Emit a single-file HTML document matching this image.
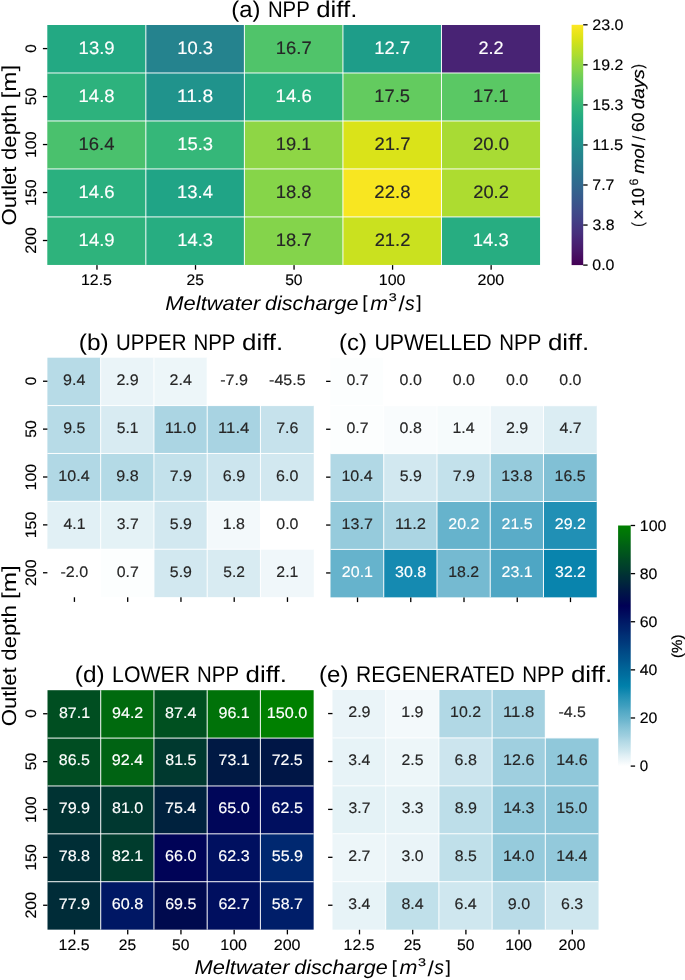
<!DOCTYPE html>
<html><head><meta charset="utf-8"><style>
html,body{margin:0;padding:0;background:#fff;}
body{width:685px;height:980px;overflow:hidden;}
svg{display:block;will-change:transform;text-rendering:geometricPrecision;font-family:"Liberation Sans",sans-serif;}
</style></head><body>
<svg width="685" height="980" viewBox="0 0 685 980">
<defs><linearGradient id="g1" x1="0" y1="1" x2="0" y2="0"><stop offset="0.0000" stop-color="#440154"/><stop offset="0.0208" stop-color="#46085c"/><stop offset="0.0417" stop-color="#471063"/><stop offset="0.0625" stop-color="#48186a"/><stop offset="0.0833" stop-color="#481f70"/><stop offset="0.1042" stop-color="#482576"/><stop offset="0.1250" stop-color="#472d7b"/><stop offset="0.1458" stop-color="#46337f"/><stop offset="0.1667" stop-color="#443983"/><stop offset="0.1875" stop-color="#424086"/><stop offset="0.2083" stop-color="#404688"/><stop offset="0.2292" stop-color="#3e4c8a"/><stop offset="0.2500" stop-color="#3b528b"/><stop offset="0.2708" stop-color="#38588c"/><stop offset="0.2917" stop-color="#365d8d"/><stop offset="0.3125" stop-color="#33638d"/><stop offset="0.3333" stop-color="#31688e"/><stop offset="0.3542" stop-color="#2e6d8e"/><stop offset="0.3750" stop-color="#2c728e"/><stop offset="0.3958" stop-color="#2a778e"/><stop offset="0.4167" stop-color="#287c8e"/><stop offset="0.4375" stop-color="#26828e"/><stop offset="0.4583" stop-color="#24868e"/><stop offset="0.4792" stop-color="#228b8d"/><stop offset="0.5000" stop-color="#21918c"/><stop offset="0.5208" stop-color="#1f958b"/><stop offset="0.5417" stop-color="#1f9a8a"/><stop offset="0.5625" stop-color="#1fa088"/><stop offset="0.5833" stop-color="#20a486"/><stop offset="0.6042" stop-color="#23a983"/><stop offset="0.6250" stop-color="#28ae80"/><stop offset="0.6458" stop-color="#2eb37c"/><stop offset="0.6667" stop-color="#35b779"/><stop offset="0.6875" stop-color="#3fbc73"/><stop offset="0.7083" stop-color="#48c16e"/><stop offset="0.7292" stop-color="#52c569"/><stop offset="0.7500" stop-color="#5ec962"/><stop offset="0.7708" stop-color="#69cd5b"/><stop offset="0.7917" stop-color="#75d054"/><stop offset="0.8125" stop-color="#84d44b"/><stop offset="0.8333" stop-color="#90d743"/><stop offset="0.8542" stop-color="#9dd93b"/><stop offset="0.8750" stop-color="#addc30"/><stop offset="0.8958" stop-color="#bade28"/><stop offset="0.9167" stop-color="#c8e020"/><stop offset="0.9375" stop-color="#d8e219"/><stop offset="0.9583" stop-color="#e5e419"/><stop offset="0.9792" stop-color="#f1e51d"/><stop offset="1.0000" stop-color="#fde725"/></linearGradient><linearGradient id="g2" x1="0" y1="1" x2="0" y2="0"><stop offset="0.0000" stop-color="#ffffff"/><stop offset="0.0208" stop-color="#f0f7fa"/><stop offset="0.0417" stop-color="#e1f0f5"/><stop offset="0.0625" stop-color="#cfe7ef"/><stop offset="0.0833" stop-color="#c0e0ea"/><stop offset="0.1042" stop-color="#b1d8e5"/><stop offset="0.1250" stop-color="#9fcfdf"/><stop offset="0.1458" stop-color="#90c8da"/><stop offset="0.1667" stop-color="#81c0d5"/><stop offset="0.1875" stop-color="#6fb7cf"/><stop offset="0.2083" stop-color="#60b0ca"/><stop offset="0.2292" stop-color="#51a8c5"/><stop offset="0.2500" stop-color="#3f9fbf"/><stop offset="0.2708" stop-color="#3098ba"/><stop offset="0.2917" stop-color="#2190b5"/><stop offset="0.3125" stop-color="#0f87af"/><stop offset="0.3333" stop-color="#0080aa"/><stop offset="0.3542" stop-color="#0078a5"/><stop offset="0.3750" stop-color="#006f9f"/><stop offset="0.3958" stop-color="#00689a"/><stop offset="0.4167" stop-color="#006095"/><stop offset="0.4375" stop-color="#00578f"/><stop offset="0.4583" stop-color="#00508a"/><stop offset="0.4792" stop-color="#004885"/><stop offset="0.5000" stop-color="#003f7f"/><stop offset="0.5208" stop-color="#00377a"/><stop offset="0.5417" stop-color="#003075"/><stop offset="0.5625" stop-color="#00276f"/><stop offset="0.5833" stop-color="#00206a"/><stop offset="0.6042" stop-color="#001865"/><stop offset="0.6250" stop-color="#000f5f"/><stop offset="0.6458" stop-color="#00075a"/><stop offset="0.6667" stop-color="#000055"/><stop offset="0.6875" stop-color="#00094f"/><stop offset="0.7083" stop-color="#00114a"/><stop offset="0.7292" stop-color="#001845"/><stop offset="0.7500" stop-color="#00213f"/><stop offset="0.7708" stop-color="#00293a"/><stop offset="0.7917" stop-color="#003035"/><stop offset="0.8125" stop-color="#00392f"/><stop offset="0.8333" stop-color="#00412a"/><stop offset="0.8542" stop-color="#004825"/><stop offset="0.8750" stop-color="#00511f"/><stop offset="0.8958" stop-color="#00591a"/><stop offset="0.9167" stop-color="#006015"/><stop offset="0.9375" stop-color="#00690f"/><stop offset="0.9583" stop-color="#00710a"/><stop offset="0.9792" stop-color="#007805"/><stop offset="1.0000" stop-color="#008000"/></linearGradient></defs>
<g><rect width="685" height="980" fill="#fff"/>
<rect x="47.3" y="25" width="98.59" height="48.03" fill="#23a983"/>
<rect x="145.84" y="25" width="98.59" height="48.03" fill="#25838e"/>
<rect x="244.38" y="25" width="98.59" height="48.03" fill="#50c46a"/>
<rect x="342.92" y="25" width="98.59" height="48.03" fill="#1e9d89"/>
<rect x="441.46" y="25" width="98.59" height="48.03" fill="#482374"/>
<rect x="47.3" y="72.98" width="98.59" height="48.03" fill="#2db27d"/>
<rect x="145.84" y="72.98" width="98.59" height="48.03" fill="#20938c"/>
<rect x="244.38" y="72.98" width="98.59" height="48.03" fill="#2ab07f"/>
<rect x="342.92" y="72.98" width="98.59" height="48.03" fill="#63cb5f"/>
<rect x="441.46" y="72.98" width="98.59" height="48.03" fill="#5ac864"/>
<rect x="47.3" y="120.96" width="98.59" height="48.03" fill="#4ac16d"/>
<rect x="145.84" y="120.96" width="98.59" height="48.03" fill="#35b779"/>
<rect x="244.38" y="120.96" width="98.59" height="48.03" fill="#8ed645"/>
<rect x="342.92" y="120.96" width="98.59" height="48.03" fill="#dae319"/>
<rect x="441.46" y="120.96" width="98.59" height="48.03" fill="#a8db34"/>
<rect x="47.3" y="168.94" width="98.59" height="48.03" fill="#2ab07f"/>
<rect x="145.84" y="168.94" width="98.59" height="48.03" fill="#20a486"/>
<rect x="244.38" y="168.94" width="98.59" height="48.03" fill="#86d549"/>
<rect x="342.92" y="168.94" width="98.59" height="48.03" fill="#f8e621"/>
<rect x="441.46" y="168.94" width="98.59" height="48.03" fill="#addc30"/>
<rect x="47.3" y="216.92" width="98.59" height="48.03" fill="#2eb37c"/>
<rect x="145.84" y="216.92" width="98.59" height="48.03" fill="#27ad81"/>
<rect x="244.38" y="216.92" width="98.59" height="48.03" fill="#84d44b"/>
<rect x="342.92" y="216.92" width="98.59" height="48.03" fill="#cae11f"/>
<rect x="441.46" y="216.92" width="98.59" height="48.03" fill="#27ad81"/>
<rect x="145.34" y="25" width="1" height="239.9" fill="#fff" fill-opacity="0.95"/>
<rect x="243.88" y="25" width="1" height="239.9" fill="#fff" fill-opacity="0.95"/>
<rect x="342.42" y="25" width="1" height="239.9" fill="#fff" fill-opacity="0.95"/>
<rect x="440.96" y="25" width="1" height="239.9" fill="#fff" fill-opacity="0.95"/>
<rect x="47.3" y="72.48" width="492.7" height="1" fill="#fff" fill-opacity="0.95"/>
<rect x="47.3" y="120.46" width="492.7" height="1" fill="#fff" fill-opacity="0.95"/>
<rect x="47.3" y="168.44" width="492.7" height="1" fill="#fff" fill-opacity="0.95"/>
<rect x="47.3" y="216.42" width="492.7" height="1" fill="#fff" fill-opacity="0.95"/>
<text x="78.61" y="53.82" font-size="18.08" textLength="36" lengthAdjust="spacingAndGlyphs" fill="#ffffff" stroke="#ffffff" stroke-width="0.15">13.9</text>
<text x="177.24" y="53.82" font-size="18.08" textLength="35.77" lengthAdjust="spacingAndGlyphs" fill="#ffffff" stroke="#ffffff" stroke-width="0.15">10.3</text>
<text x="275.83" y="53.82" font-size="18.08" textLength="35.8" lengthAdjust="spacingAndGlyphs" fill="#262626" stroke="#262626" stroke-width="0.15">16.7</text>
<text x="374.37" y="53.82" font-size="18.08" textLength="35.8" lengthAdjust="spacingAndGlyphs" fill="#ffffff" stroke="#ffffff" stroke-width="0.15">12.7</text>
<text x="478.46" y="53.82" font-size="18.08" textLength="25.17" lengthAdjust="spacingAndGlyphs" fill="#ffffff" stroke="#ffffff" stroke-width="0.15">2.2</text>
<text x="78.6" y="101.8" font-size="18.08" textLength="35.96" lengthAdjust="spacingAndGlyphs" fill="#ffffff" stroke="#ffffff" stroke-width="0.15">14.8</text>
<text x="177.08" y="101.8" font-size="18.08" textLength="36.05" lengthAdjust="spacingAndGlyphs" fill="#ffffff" stroke="#ffffff" stroke-width="0.15">11.8</text>
<text x="275.63" y="101.8" font-size="18.08" textLength="36.06" lengthAdjust="spacingAndGlyphs" fill="#ffffff" stroke="#ffffff" stroke-width="0.15">14.6</text>
<text x="374.39" y="101.8" font-size="18.08" textLength="35.6" lengthAdjust="spacingAndGlyphs" fill="#262626" stroke="#262626" stroke-width="0.15">17.5</text>
<text x="472.97" y="101.8" font-size="18.08" textLength="35.65" lengthAdjust="spacingAndGlyphs" fill="#262626" stroke="#262626" stroke-width="0.15">17.1</text>
<text x="78.5" y="149.78" font-size="18.08" textLength="35.89" lengthAdjust="spacingAndGlyphs" fill="#262626" stroke="#262626" stroke-width="0.15">16.4</text>
<text x="177.24" y="149.78" font-size="18.08" textLength="35.77" lengthAdjust="spacingAndGlyphs" fill="#ffffff" stroke="#ffffff" stroke-width="0.15">15.3</text>
<text x="275.89" y="149.78" font-size="18.08" textLength="35.65" lengthAdjust="spacingAndGlyphs" fill="#262626" stroke="#262626" stroke-width="0.15">19.1</text>
<text x="374.53" y="149.78" font-size="18.08" textLength="35.93" lengthAdjust="spacingAndGlyphs" fill="#262626" stroke="#262626" stroke-width="0.15">21.7</text>
<text x="472.92" y="149.78" font-size="18.08" textLength="36.05" lengthAdjust="spacingAndGlyphs" fill="#262626" stroke="#262626" stroke-width="0.15">20.0</text>
<text x="78.55" y="197.76" font-size="18.08" textLength="36.06" lengthAdjust="spacingAndGlyphs" fill="#ffffff" stroke="#ffffff" stroke-width="0.15">14.6</text>
<text x="177.04" y="197.76" font-size="18.08" textLength="35.89" lengthAdjust="spacingAndGlyphs" fill="#ffffff" stroke="#ffffff" stroke-width="0.15">13.4</text>
<text x="275.68" y="197.76" font-size="18.08" textLength="35.96" lengthAdjust="spacingAndGlyphs" fill="#262626" stroke="#262626" stroke-width="0.15">18.8</text>
<text x="374.39" y="197.76" font-size="18.08" textLength="36.09" lengthAdjust="spacingAndGlyphs" fill="#262626" stroke="#262626" stroke-width="0.15">22.8</text>
<text x="473.21" y="197.76" font-size="18.08" textLength="35.67" lengthAdjust="spacingAndGlyphs" fill="#262626" stroke="#262626" stroke-width="0.15">20.2</text>
<text x="78.61" y="245.74" font-size="18.08" textLength="36" lengthAdjust="spacingAndGlyphs" fill="#ffffff" stroke="#ffffff" stroke-width="0.15">14.9</text>
<text x="177.24" y="245.74" font-size="18.08" textLength="35.77" lengthAdjust="spacingAndGlyphs" fill="#ffffff" stroke="#ffffff" stroke-width="0.15">14.3</text>
<text x="275.83" y="245.74" font-size="18.08" textLength="35.8" lengthAdjust="spacingAndGlyphs" fill="#262626" stroke="#262626" stroke-width="0.15">18.7</text>
<text x="374.67" y="245.74" font-size="18.08" textLength="35.67" lengthAdjust="spacingAndGlyphs" fill="#262626" stroke="#262626" stroke-width="0.15">21.2</text>
<text x="472.86" y="245.74" font-size="18.08" textLength="35.77" lengthAdjust="spacingAndGlyphs" fill="#ffffff" stroke="#ffffff" stroke-width="0.15">14.3</text>
<rect x="47.4" y="357.7" width="53.31" height="47.93" fill="#b7dbe7"/>
<rect x="100.66" y="357.7" width="53.31" height="47.93" fill="#eaf4f8"/>
<rect x="153.92" y="357.7" width="53.31" height="47.93" fill="#edf6f9"/>
<rect x="207.18" y="357.7" width="53.31" height="47.93" fill="#ffffff"/>
<rect x="260.44" y="357.7" width="53.31" height="47.93" fill="#ffffff"/>
<rect x="47.4" y="405.58" width="53.31" height="47.93" fill="#b7dbe7"/>
<rect x="100.66" y="405.58" width="53.31" height="47.93" fill="#d8ebf2"/>
<rect x="153.92" y="405.58" width="53.31" height="47.93" fill="#abd5e3"/>
<rect x="207.18" y="405.58" width="53.31" height="47.93" fill="#a8d3e2"/>
<rect x="260.44" y="405.58" width="53.31" height="47.93" fill="#c6e2ec"/>
<rect x="47.4" y="453.46" width="53.31" height="47.93" fill="#b1d8e5"/>
<rect x="100.66" y="453.46" width="53.31" height="47.93" fill="#b4dae6"/>
<rect x="153.92" y="453.46" width="53.31" height="47.93" fill="#c3e1eb"/>
<rect x="207.18" y="453.46" width="53.31" height="47.93" fill="#cce5ee"/>
<rect x="260.44" y="453.46" width="53.31" height="47.93" fill="#d2e8f0"/>
<rect x="47.4" y="501.34" width="53.31" height="47.93" fill="#e1f0f5"/>
<rect x="100.66" y="501.34" width="53.31" height="47.93" fill="#e4f2f6"/>
<rect x="153.92" y="501.34" width="53.31" height="47.93" fill="#d2e8f0"/>
<rect x="207.18" y="501.34" width="53.31" height="47.93" fill="#f3f9fb"/>
<rect x="260.44" y="501.34" width="53.31" height="47.93" fill="#ffffff"/>
<rect x="47.4" y="549.22" width="53.31" height="47.93" fill="#ffffff"/>
<rect x="100.66" y="549.22" width="53.31" height="47.93" fill="#fcfefe"/>
<rect x="153.92" y="549.22" width="53.31" height="47.93" fill="#d2e8f0"/>
<rect x="207.18" y="549.22" width="53.31" height="47.93" fill="#d8ebf2"/>
<rect x="260.44" y="549.22" width="53.31" height="47.93" fill="#f0f7fa"/>
<rect x="100.16" y="357.7" width="1" height="239.4" fill="#fff" fill-opacity="0.95"/>
<rect x="153.42" y="357.7" width="1" height="239.4" fill="#fff" fill-opacity="0.95"/>
<rect x="206.68" y="357.7" width="1" height="239.4" fill="#fff" fill-opacity="0.95"/>
<rect x="259.94" y="357.7" width="1" height="239.4" fill="#fff" fill-opacity="0.95"/>
<rect x="47.4" y="405.08" width="266.3" height="1" fill="#fff" fill-opacity="0.95"/>
<rect x="47.4" y="452.96" width="266.3" height="1" fill="#fff" fill-opacity="0.95"/>
<rect x="47.4" y="500.84" width="266.3" height="1" fill="#fff" fill-opacity="0.95"/>
<rect x="47.4" y="548.72" width="266.3" height="1" fill="#fff" fill-opacity="0.95"/>
<text x="63.03" y="385.09" font-size="15.26" textLength="22.33" lengthAdjust="spacingAndGlyphs" fill="#262626" stroke="#262626" stroke-width="0.15">9.4</text>
<text x="116.41" y="385.09" font-size="15.26" textLength="22.33" lengthAdjust="spacingAndGlyphs" fill="#262626" stroke="#262626" stroke-width="0.15">2.9</text>
<text x="169.57" y="385.09" font-size="15.26" textLength="22.23" lengthAdjust="spacingAndGlyphs" fill="#262626" stroke="#262626" stroke-width="0.15">2.4</text>
<text x="220.26" y="385.09" font-size="15.26" textLength="27.76" lengthAdjust="spacingAndGlyphs" fill="#262626" stroke="#262626" stroke-width="0.15">-7.9</text>
<text x="269.09" y="385.09" font-size="15.26" textLength="36.56" lengthAdjust="spacingAndGlyphs" fill="#262626" stroke="#262626" stroke-width="0.15">-45.5</text>
<text x="63.26" y="432.97" font-size="15.26" textLength="22.08" lengthAdjust="spacingAndGlyphs" fill="#262626" stroke="#262626" stroke-width="0.15">9.5</text>
<text x="116.77" y="432.97" font-size="15.26" textLength="21.79" lengthAdjust="spacingAndGlyphs" fill="#262626" stroke="#262626" stroke-width="0.15">5.1</text>
<text x="164.88" y="432.97" font-size="15.26" textLength="31.35" lengthAdjust="spacingAndGlyphs" fill="#262626" stroke="#262626" stroke-width="0.15">11.0</text>
<text x="218.07" y="432.97" font-size="15.26" textLength="31.32" lengthAdjust="spacingAndGlyphs" fill="#262626" stroke="#262626" stroke-width="0.15">11.4</text>
<text x="276.19" y="432.97" font-size="15.26" textLength="22.26" lengthAdjust="spacingAndGlyphs" fill="#262626" stroke="#262626" stroke-width="0.15">7.6</text>
<text x="58.34" y="480.85" font-size="15.26" textLength="31.25" lengthAdjust="spacingAndGlyphs" fill="#262626" stroke="#262626" stroke-width="0.15">10.4</text>
<text x="116.37" y="480.85" font-size="15.26" textLength="22.39" lengthAdjust="spacingAndGlyphs" fill="#262626" stroke="#262626" stroke-width="0.15">9.8</text>
<text x="169.72" y="480.85" font-size="15.26" textLength="22.2" lengthAdjust="spacingAndGlyphs" fill="#262626" stroke="#262626" stroke-width="0.15">7.9</text>
<text x="222.89" y="480.85" font-size="15.26" textLength="22.39" lengthAdjust="spacingAndGlyphs" fill="#262626" stroke="#262626" stroke-width="0.15">6.9</text>
<text x="276.13" y="480.85" font-size="15.26" textLength="22.31" lengthAdjust="spacingAndGlyphs" fill="#262626" stroke="#262626" stroke-width="0.15">6.0</text>
<text x="63.58" y="528.73" font-size="15.26" textLength="21.93" lengthAdjust="spacingAndGlyphs" fill="#262626" stroke="#262626" stroke-width="0.15">4.1</text>
<text x="116.75" y="528.73" font-size="15.26" textLength="21.9" lengthAdjust="spacingAndGlyphs" fill="#262626" stroke="#262626" stroke-width="0.15">3.7</text>
<text x="169.87" y="528.73" font-size="15.26" textLength="22.09" lengthAdjust="spacingAndGlyphs" fill="#262626" stroke="#262626" stroke-width="0.15">5.9</text>
<text x="222.77" y="528.73" font-size="15.26" textLength="22.16" lengthAdjust="spacingAndGlyphs" fill="#262626" stroke="#262626" stroke-width="0.15">1.8</text>
<text x="276.29" y="528.73" font-size="15.26" textLength="22.17" lengthAdjust="spacingAndGlyphs" fill="#262626" stroke="#262626" stroke-width="0.15">0.0</text>
<text x="60.46" y="576.61" font-size="15.26" textLength="27.68" lengthAdjust="spacingAndGlyphs" fill="#262626" stroke="#262626" stroke-width="0.15">-2.0</text>
<text x="116.65" y="576.61" font-size="15.26" textLength="22.07" lengthAdjust="spacingAndGlyphs" fill="#262626" stroke="#262626" stroke-width="0.15">0.7</text>
<text x="169.87" y="576.61" font-size="15.26" textLength="22.09" lengthAdjust="spacingAndGlyphs" fill="#262626" stroke="#262626" stroke-width="0.15">5.9</text>
<text x="223.35" y="576.61" font-size="15.26" textLength="21.68" lengthAdjust="spacingAndGlyphs" fill="#262626" stroke="#262626" stroke-width="0.15">5.2</text>
<text x="276.36" y="576.61" font-size="15.26" textLength="22.02" lengthAdjust="spacingAndGlyphs" fill="#262626" stroke="#262626" stroke-width="0.15">2.1</text>
<rect x="330.5" y="357.8" width="53.29" height="47.95" fill="#fcfefe"/>
<rect x="383.74" y="357.8" width="53.29" height="47.95" fill="#ffffff"/>
<rect x="436.98" y="357.8" width="53.29" height="47.95" fill="#ffffff"/>
<rect x="490.22" y="357.8" width="53.29" height="47.95" fill="#ffffff"/>
<rect x="543.46" y="357.8" width="53.29" height="47.95" fill="#ffffff"/>
<rect x="330.5" y="405.7" width="53.29" height="47.95" fill="#fcfefe"/>
<rect x="383.74" y="405.7" width="53.29" height="47.95" fill="#f9fcfd"/>
<rect x="436.98" y="405.7" width="53.29" height="47.95" fill="#f6fbfc"/>
<rect x="490.22" y="405.7" width="53.29" height="47.95" fill="#eaf4f8"/>
<rect x="543.46" y="405.7" width="53.29" height="47.95" fill="#dbedf3"/>
<rect x="330.5" y="453.6" width="53.29" height="47.95" fill="#b1d8e5"/>
<rect x="383.74" y="453.6" width="53.29" height="47.95" fill="#d2e8f0"/>
<rect x="436.98" y="453.6" width="53.29" height="47.95" fill="#c3e1eb"/>
<rect x="490.22" y="453.6" width="53.29" height="47.95" fill="#96cbdc"/>
<rect x="543.46" y="453.6" width="53.29" height="47.95" fill="#81c0d5"/>
<rect x="330.5" y="501.5" width="53.29" height="47.95" fill="#96cbdc"/>
<rect x="383.74" y="501.5" width="53.29" height="47.95" fill="#abd5e3"/>
<rect x="436.98" y="501.5" width="53.29" height="47.95" fill="#66b3cc"/>
<rect x="490.22" y="501.5" width="53.29" height="47.95" fill="#5aacc8"/>
<rect x="543.46" y="501.5" width="53.29" height="47.95" fill="#2190b5"/>
<rect x="330.5" y="549.4" width="53.29" height="47.95" fill="#66b3cc"/>
<rect x="383.74" y="549.4" width="53.29" height="47.95" fill="#158ab1"/>
<rect x="436.98" y="549.4" width="53.29" height="47.95" fill="#75bad1"/>
<rect x="490.22" y="549.4" width="53.29" height="47.95" fill="#4ea6c4"/>
<rect x="543.46" y="549.4" width="53.29" height="47.95" fill="#0984ad"/>
<rect x="383.24" y="357.8" width="1" height="239.5" fill="#fff" fill-opacity="0.95"/>
<rect x="436.48" y="357.8" width="1" height="239.5" fill="#fff" fill-opacity="0.95"/>
<rect x="489.72" y="357.8" width="1" height="239.5" fill="#fff" fill-opacity="0.95"/>
<rect x="542.96" y="357.8" width="1" height="239.5" fill="#fff" fill-opacity="0.95"/>
<rect x="330.5" y="405.2" width="266.2" height="1" fill="#fff" fill-opacity="0.95"/>
<rect x="330.5" y="453.1" width="266.2" height="1" fill="#fff" fill-opacity="0.95"/>
<rect x="330.5" y="501" width="266.2" height="1" fill="#fff" fill-opacity="0.95"/>
<rect x="330.5" y="548.9" width="266.2" height="1" fill="#fff" fill-opacity="0.95"/>
<text x="346.48" y="385.2" font-size="15.26" textLength="22.07" lengthAdjust="spacingAndGlyphs" fill="#262626" stroke="#262626" stroke-width="0.15">0.7</text>
<text x="399.58" y="385.2" font-size="15.26" textLength="22.17" lengthAdjust="spacingAndGlyphs" fill="#262626" stroke="#262626" stroke-width="0.15">0.0</text>
<text x="452.82" y="385.2" font-size="15.26" textLength="22.17" lengthAdjust="spacingAndGlyphs" fill="#262626" stroke="#262626" stroke-width="0.15">0.0</text>
<text x="506.06" y="385.2" font-size="15.26" textLength="22.17" lengthAdjust="spacingAndGlyphs" fill="#262626" stroke="#262626" stroke-width="0.15">0.0</text>
<text x="559.3" y="385.2" font-size="15.26" textLength="22.17" lengthAdjust="spacingAndGlyphs" fill="#262626" stroke="#262626" stroke-width="0.15">0.0</text>
<text x="346.48" y="433.1" font-size="15.26" textLength="22.07" lengthAdjust="spacingAndGlyphs" fill="#262626" stroke="#262626" stroke-width="0.15">0.7</text>
<text x="399.6" y="433.1" font-size="15.26" textLength="22.21" lengthAdjust="spacingAndGlyphs" fill="#262626" stroke="#262626" stroke-width="0.15">0.8</text>
<text x="452.48" y="433.1" font-size="15.26" textLength="22.11" lengthAdjust="spacingAndGlyphs" fill="#262626" stroke="#262626" stroke-width="0.15">1.4</text>
<text x="505.96" y="433.1" font-size="15.26" textLength="22.33" lengthAdjust="spacingAndGlyphs" fill="#262626" stroke="#262626" stroke-width="0.15">2.9</text>
<text x="559.58" y="433.1" font-size="15.26" textLength="22.06" lengthAdjust="spacingAndGlyphs" fill="#262626" stroke="#262626" stroke-width="0.15">4.7</text>
<text x="341.43" y="481" font-size="15.26" textLength="31.25" lengthAdjust="spacingAndGlyphs" fill="#262626" stroke="#262626" stroke-width="0.15">10.4</text>
<text x="399.68" y="481" font-size="15.26" textLength="22.09" lengthAdjust="spacingAndGlyphs" fill="#262626" stroke="#262626" stroke-width="0.15">5.9</text>
<text x="452.77" y="481" font-size="15.26" textLength="22.2" lengthAdjust="spacingAndGlyphs" fill="#262626" stroke="#262626" stroke-width="0.15">7.9</text>
<text x="501.23" y="481" font-size="15.26" textLength="31.31" lengthAdjust="spacingAndGlyphs" fill="#262626" stroke="#262626" stroke-width="0.15">13.8</text>
<text x="554.62" y="481" font-size="15.26" textLength="31" lengthAdjust="spacingAndGlyphs" fill="#262626" stroke="#262626" stroke-width="0.15">16.5</text>
<text x="341.64" y="528.9" font-size="15.26" textLength="31.17" lengthAdjust="spacingAndGlyphs" fill="#262626" stroke="#262626" stroke-width="0.15">13.7</text>
<text x="394.94" y="528.9" font-size="15.26" textLength="31.02" lengthAdjust="spacingAndGlyphs" fill="#262626" stroke="#262626" stroke-width="0.15">11.2</text>
<text x="448.38" y="528.9" font-size="15.26" textLength="31.06" lengthAdjust="spacingAndGlyphs" fill="#ffffff" stroke="#ffffff" stroke-width="0.15">20.2</text>
<text x="501.52" y="528.9" font-size="15.26" textLength="31.12" lengthAdjust="spacingAndGlyphs" fill="#ffffff" stroke="#ffffff" stroke-width="0.15">21.5</text>
<text x="554.86" y="528.9" font-size="15.26" textLength="31.06" lengthAdjust="spacingAndGlyphs" fill="#ffffff" stroke="#ffffff" stroke-width="0.15">29.2</text>
<text x="341.84" y="576.8" font-size="15.26" textLength="31.17" lengthAdjust="spacingAndGlyphs" fill="#ffffff" stroke="#ffffff" stroke-width="0.15">20.1</text>
<text x="395.12" y="576.8" font-size="15.26" textLength="31.18" lengthAdjust="spacingAndGlyphs" fill="#ffffff" stroke="#ffffff" stroke-width="0.15">30.8</text>
<text x="448.23" y="576.8" font-size="15.26" textLength="30.94" lengthAdjust="spacingAndGlyphs" fill="#262626" stroke="#262626" stroke-width="0.15">18.2</text>
<text x="501.56" y="576.8" font-size="15.26" textLength="31.17" lengthAdjust="spacingAndGlyphs" fill="#ffffff" stroke="#ffffff" stroke-width="0.15">23.1</text>
<text x="555.08" y="576.8" font-size="15.26" textLength="30.82" lengthAdjust="spacingAndGlyphs" fill="#ffffff" stroke="#ffffff" stroke-width="0.15">32.2</text>
<rect x="47.5" y="690.2" width="53.27" height="47.93" fill="#004e21"/>
<rect x="100.72" y="690.2" width="53.27" height="47.93" fill="#006a0e"/>
<rect x="153.94" y="690.2" width="53.27" height="47.93" fill="#005020"/>
<rect x="207.16" y="690.2" width="53.27" height="47.93" fill="#007209"/>
<rect x="260.38" y="690.2" width="53.27" height="47.93" fill="#008000"/>
<rect x="47.5" y="738.08" width="53.27" height="47.93" fill="#004d22"/>
<rect x="100.72" y="738.08" width="53.27" height="47.93" fill="#006313"/>
<rect x="153.94" y="738.08" width="53.27" height="47.93" fill="#00392f"/>
<rect x="207.16" y="738.08" width="53.27" height="47.93" fill="#001944"/>
<rect x="260.38" y="738.08" width="53.27" height="47.93" fill="#001646"/>
<rect x="47.5" y="785.96" width="53.27" height="47.93" fill="#003333"/>
<rect x="100.72" y="785.96" width="53.27" height="47.93" fill="#003830"/>
<rect x="153.94" y="785.96" width="53.27" height="47.93" fill="#00223e"/>
<rect x="207.16" y="785.96" width="53.27" height="47.93" fill="#000659"/>
<rect x="260.38" y="785.96" width="53.27" height="47.93" fill="#000f5f"/>
<rect x="47.5" y="833.84" width="53.27" height="47.93" fill="#002e36"/>
<rect x="100.72" y="833.84" width="53.27" height="47.93" fill="#003c2d"/>
<rect x="153.94" y="833.84" width="53.27" height="47.93" fill="#000357"/>
<rect x="207.16" y="833.84" width="53.27" height="47.93" fill="#001060"/>
<rect x="260.38" y="833.84" width="53.27" height="47.93" fill="#002870"/>
<rect x="47.5" y="881.72" width="53.27" height="47.93" fill="#002c38"/>
<rect x="100.72" y="881.72" width="53.27" height="47.93" fill="#001764"/>
<rect x="153.94" y="881.72" width="53.27" height="47.93" fill="#000a4e"/>
<rect x="207.16" y="881.72" width="53.27" height="47.93" fill="#000f5f"/>
<rect x="260.38" y="881.72" width="53.27" height="47.93" fill="#001e69"/>
<rect x="100.22" y="690.2" width="1" height="239.4" fill="#fff" fill-opacity="0.95"/>
<rect x="153.44" y="690.2" width="1" height="239.4" fill="#fff" fill-opacity="0.95"/>
<rect x="206.66" y="690.2" width="1" height="239.4" fill="#fff" fill-opacity="0.95"/>
<rect x="259.88" y="690.2" width="1" height="239.4" fill="#fff" fill-opacity="0.95"/>
<rect x="47.5" y="737.58" width="266.1" height="1" fill="#fff" fill-opacity="0.95"/>
<rect x="47.5" y="785.46" width="266.1" height="1" fill="#fff" fill-opacity="0.95"/>
<rect x="47.5" y="833.34" width="266.1" height="1" fill="#fff" fill-opacity="0.95"/>
<rect x="47.5" y="881.22" width="266.1" height="1" fill="#fff" fill-opacity="0.95"/>
<text x="58.91" y="717.59" font-size="15.26" textLength="31.12" lengthAdjust="spacingAndGlyphs" fill="#ffffff" stroke="#ffffff" stroke-width="0.15">87.1</text>
<text x="112.08" y="717.59" font-size="15.26" textLength="31.16" lengthAdjust="spacingAndGlyphs" fill="#ffffff" stroke="#ffffff" stroke-width="0.15">94.2</text>
<text x="165.08" y="717.59" font-size="15.26" textLength="31.33" lengthAdjust="spacingAndGlyphs" fill="#ffffff" stroke="#ffffff" stroke-width="0.15">87.4</text>
<text x="218.46" y="717.59" font-size="15.26" textLength="31.27" lengthAdjust="spacingAndGlyphs" fill="#ffffff" stroke="#ffffff" stroke-width="0.15">96.1</text>
<text x="266.79" y="717.59" font-size="15.26" textLength="40.43" lengthAdjust="spacingAndGlyphs" fill="#ffffff" stroke="#ffffff" stroke-width="0.15">150.0</text>
<text x="58.87" y="765.47" font-size="15.26" textLength="31.08" lengthAdjust="spacingAndGlyphs" fill="#ffffff" stroke="#ffffff" stroke-width="0.15">86.5</text>
<text x="111.76" y="765.47" font-size="15.26" textLength="31.47" lengthAdjust="spacingAndGlyphs" fill="#ffffff" stroke="#ffffff" stroke-width="0.15">92.4</text>
<text x="165.31" y="765.47" font-size="15.26" textLength="31.08" lengthAdjust="spacingAndGlyphs" fill="#ffffff" stroke="#ffffff" stroke-width="0.15">81.5</text>
<text x="218.54" y="765.47" font-size="15.26" textLength="31.05" lengthAdjust="spacingAndGlyphs" fill="#ffffff" stroke="#ffffff" stroke-width="0.15">73.1</text>
<text x="271.73" y="765.47" font-size="15.26" textLength="31.01" lengthAdjust="spacingAndGlyphs" fill="#ffffff" stroke="#ffffff" stroke-width="0.15">72.5</text>
<text x="58.71" y="813.35" font-size="15.26" textLength="31.35" lengthAdjust="spacingAndGlyphs" fill="#ffffff" stroke="#ffffff" stroke-width="0.15">79.9</text>
<text x="111.93" y="813.35" font-size="15.26" textLength="31.35" lengthAdjust="spacingAndGlyphs" fill="#ffffff" stroke="#ffffff" stroke-width="0.15">81.0</text>
<text x="165.06" y="813.35" font-size="15.26" textLength="31.25" lengthAdjust="spacingAndGlyphs" fill="#ffffff" stroke="#ffffff" stroke-width="0.15">75.4</text>
<text x="218.26" y="813.35" font-size="15.26" textLength="31.45" lengthAdjust="spacingAndGlyphs" fill="#ffffff" stroke="#ffffff" stroke-width="0.15">65.0</text>
<text x="271.63" y="813.35" font-size="15.26" textLength="31.19" lengthAdjust="spacingAndGlyphs" fill="#ffffff" stroke="#ffffff" stroke-width="0.15">62.5</text>
<text x="58.7" y="861.23" font-size="15.26" textLength="31.31" lengthAdjust="spacingAndGlyphs" fill="#ffffff" stroke="#ffffff" stroke-width="0.15">78.8</text>
<text x="112.13" y="861.23" font-size="15.26" textLength="31.12" lengthAdjust="spacingAndGlyphs" fill="#ffffff" stroke="#ffffff" stroke-width="0.15">82.1</text>
<text x="165.04" y="861.23" font-size="15.26" textLength="31.45" lengthAdjust="spacingAndGlyphs" fill="#ffffff" stroke="#ffffff" stroke-width="0.15">66.0</text>
<text x="218.36" y="861.23" font-size="15.26" textLength="31.33" lengthAdjust="spacingAndGlyphs" fill="#ffffff" stroke="#ffffff" stroke-width="0.15">62.3</text>
<text x="271.74" y="861.23" font-size="15.26" textLength="31.24" lengthAdjust="spacingAndGlyphs" fill="#ffffff" stroke="#ffffff" stroke-width="0.15">55.9</text>
<text x="58.71" y="909.11" font-size="15.26" textLength="31.35" lengthAdjust="spacingAndGlyphs" fill="#ffffff" stroke="#ffffff" stroke-width="0.15">77.9</text>
<text x="111.83" y="909.11" font-size="15.26" textLength="31.49" lengthAdjust="spacingAndGlyphs" fill="#ffffff" stroke="#ffffff" stroke-width="0.15">60.8</text>
<text x="165.19" y="909.11" font-size="15.26" textLength="31.19" lengthAdjust="spacingAndGlyphs" fill="#ffffff" stroke="#ffffff" stroke-width="0.15">69.5</text>
<text x="218.4" y="909.11" font-size="15.26" textLength="31.35" lengthAdjust="spacingAndGlyphs" fill="#ffffff" stroke="#ffffff" stroke-width="0.15">62.7</text>
<text x="271.85" y="909.11" font-size="15.26" textLength="31.06" lengthAdjust="spacingAndGlyphs" fill="#ffffff" stroke="#ffffff" stroke-width="0.15">58.7</text>
<rect x="332.5" y="690" width="53.25" height="47.97" fill="#eaf4f8"/>
<rect x="385.7" y="690" width="53.25" height="47.97" fill="#f3f9fb"/>
<rect x="438.9" y="690" width="53.25" height="47.97" fill="#b1d8e5"/>
<rect x="492.1" y="690" width="53.25" height="47.97" fill="#a5d2e1"/>
<rect x="545.3" y="690" width="53.25" height="47.97" fill="#ffffff"/>
<rect x="332.5" y="737.92" width="53.25" height="47.97" fill="#e7f3f7"/>
<rect x="385.7" y="737.92" width="53.25" height="47.97" fill="#edf6f9"/>
<rect x="438.9" y="737.92" width="53.25" height="47.97" fill="#cce5ee"/>
<rect x="492.1" y="737.92" width="53.25" height="47.97" fill="#9fcfdf"/>
<rect x="545.3" y="737.92" width="53.25" height="47.97" fill="#90c8da"/>
<rect x="332.5" y="785.84" width="53.25" height="47.97" fill="#e4f2f6"/>
<rect x="385.7" y="785.84" width="53.25" height="47.97" fill="#e7f3f7"/>
<rect x="438.9" y="785.84" width="53.25" height="47.97" fill="#bddee9"/>
<rect x="492.1" y="785.84" width="53.25" height="47.97" fill="#93c9db"/>
<rect x="545.3" y="785.84" width="53.25" height="47.97" fill="#8dc6d9"/>
<rect x="332.5" y="833.76" width="53.25" height="47.97" fill="#edf6f9"/>
<rect x="385.7" y="833.76" width="53.25" height="47.97" fill="#eaf4f8"/>
<rect x="438.9" y="833.76" width="53.25" height="47.97" fill="#c0e0ea"/>
<rect x="492.1" y="833.76" width="53.25" height="47.97" fill="#96cbdc"/>
<rect x="545.3" y="833.76" width="53.25" height="47.97" fill="#93c9db"/>
<rect x="332.5" y="881.68" width="53.25" height="47.97" fill="#e7f3f7"/>
<rect x="385.7" y="881.68" width="53.25" height="47.97" fill="#c0e0ea"/>
<rect x="438.9" y="881.68" width="53.25" height="47.97" fill="#cfe7ef"/>
<rect x="492.1" y="881.68" width="53.25" height="47.97" fill="#badce8"/>
<rect x="545.3" y="881.68" width="53.25" height="47.97" fill="#cfe7ef"/>
<rect x="385.2" y="690" width="1" height="239.6" fill="#fff" fill-opacity="0.95"/>
<rect x="438.4" y="690" width="1" height="239.6" fill="#fff" fill-opacity="0.95"/>
<rect x="491.6" y="690" width="1" height="239.6" fill="#fff" fill-opacity="0.95"/>
<rect x="544.8" y="690" width="1" height="239.6" fill="#fff" fill-opacity="0.95"/>
<rect x="332.5" y="737.42" width="266" height="1" fill="#fff" fill-opacity="0.95"/>
<rect x="332.5" y="785.34" width="266" height="1" fill="#fff" fill-opacity="0.95"/>
<rect x="332.5" y="833.26" width="266" height="1" fill="#fff" fill-opacity="0.95"/>
<rect x="332.5" y="881.18" width="266" height="1" fill="#fff" fill-opacity="0.95"/>
<text x="348.22" y="717.41" font-size="15.26" textLength="22.33" lengthAdjust="spacingAndGlyphs" fill="#262626" stroke="#262626" stroke-width="0.15">2.9</text>
<text x="401.28" y="717.41" font-size="15.26" textLength="22.2" lengthAdjust="spacingAndGlyphs" fill="#262626" stroke="#262626" stroke-width="0.15">1.9</text>
<text x="450.13" y="717.41" font-size="15.26" textLength="30.94" lengthAdjust="spacingAndGlyphs" fill="#262626" stroke="#262626" stroke-width="0.15">10.2</text>
<text x="503.04" y="717.41" font-size="15.26" textLength="31.39" lengthAdjust="spacingAndGlyphs" fill="#262626" stroke="#262626" stroke-width="0.15">11.8</text>
<text x="558.48" y="717.41" font-size="15.26" textLength="27.42" lengthAdjust="spacingAndGlyphs" fill="#262626" stroke="#262626" stroke-width="0.15">-4.5</text>
<text x="348.35" y="765.33" font-size="15.26" textLength="21.99" lengthAdjust="spacingAndGlyphs" fill="#262626" stroke="#262626" stroke-width="0.15">3.4</text>
<text x="401.56" y="765.33" font-size="15.26" textLength="21.98" lengthAdjust="spacingAndGlyphs" fill="#262626" stroke="#262626" stroke-width="0.15">2.5</text>
<text x="454.57" y="765.33" font-size="15.26" textLength="22.35" lengthAdjust="spacingAndGlyphs" fill="#262626" stroke="#262626" stroke-width="0.15">6.8</text>
<text x="503.05" y="765.33" font-size="15.26" textLength="31.4" lengthAdjust="spacingAndGlyphs" fill="#262626" stroke="#262626" stroke-width="0.15">12.6</text>
<text x="556.25" y="765.33" font-size="15.26" textLength="31.4" lengthAdjust="spacingAndGlyphs" fill="#262626" stroke="#262626" stroke-width="0.15">14.6</text>
<text x="348.56" y="813.25" font-size="15.26" textLength="21.9" lengthAdjust="spacingAndGlyphs" fill="#262626" stroke="#262626" stroke-width="0.15">3.7</text>
<text x="401.72" y="813.25" font-size="15.26" textLength="21.87" lengthAdjust="spacingAndGlyphs" fill="#262626" stroke="#262626" stroke-width="0.15">3.3</text>
<text x="454.7" y="813.25" font-size="15.26" textLength="22.28" lengthAdjust="spacingAndGlyphs" fill="#262626" stroke="#262626" stroke-width="0.15">8.9</text>
<text x="503.18" y="813.25" font-size="15.26" textLength="31.14" lengthAdjust="spacingAndGlyphs" fill="#262626" stroke="#262626" stroke-width="0.15">14.3</text>
<text x="556.28" y="813.25" font-size="15.26" textLength="31.27" lengthAdjust="spacingAndGlyphs" fill="#262626" stroke="#262626" stroke-width="0.15">15.0</text>
<text x="348.34" y="861.17" font-size="15.26" textLength="22.15" lengthAdjust="spacingAndGlyphs" fill="#262626" stroke="#262626" stroke-width="0.15">2.7</text>
<text x="401.62" y="861.17" font-size="15.26" textLength="22" lengthAdjust="spacingAndGlyphs" fill="#262626" stroke="#262626" stroke-width="0.15">3.0</text>
<text x="454.83" y="861.17" font-size="15.26" textLength="21.94" lengthAdjust="spacingAndGlyphs" fill="#262626" stroke="#262626" stroke-width="0.15">8.5</text>
<text x="503.08" y="861.17" font-size="15.26" textLength="31.27" lengthAdjust="spacingAndGlyphs" fill="#262626" stroke="#262626" stroke-width="0.15">14.0</text>
<text x="556.21" y="861.17" font-size="15.26" textLength="31.25" lengthAdjust="spacingAndGlyphs" fill="#262626" stroke="#262626" stroke-width="0.15">14.4</text>
<text x="348.35" y="909.09" font-size="15.26" textLength="21.99" lengthAdjust="spacingAndGlyphs" fill="#262626" stroke="#262626" stroke-width="0.15">3.4</text>
<text x="401.4" y="909.09" font-size="15.26" textLength="22.19" lengthAdjust="spacingAndGlyphs" fill="#262626" stroke="#262626" stroke-width="0.15">8.4</text>
<text x="454.49" y="909.09" font-size="15.26" textLength="22.3" lengthAdjust="spacingAndGlyphs" fill="#262626" stroke="#262626" stroke-width="0.15">6.4</text>
<text x="507.77" y="909.09" font-size="15.26" textLength="22.35" lengthAdjust="spacingAndGlyphs" fill="#262626" stroke="#262626" stroke-width="0.15">9.0</text>
<text x="561.06" y="909.09" font-size="15.26" textLength="22.18" lengthAdjust="spacingAndGlyphs" fill="#262626" stroke="#262626" stroke-width="0.15">6.3</text>
<rect x="42.9" y="47.94" width="4.4" height="1.3" fill="#000"/>
<text transform="translate(35.6,52.09) rotate(-90)" x="-0.59" y="0" font-size="15.15" textLength="8.4" lengthAdjust="spacingAndGlyphs" fill="#000" stroke="#000" stroke-width="0.15">0</text>
<rect x="42.9" y="95.92" width="4.4" height="1.3" fill="#000"/>
<text transform="translate(35.6,104.54) rotate(-90)" x="-0.63" y="0" font-size="15.15" textLength="17.41" lengthAdjust="spacingAndGlyphs" fill="#000" stroke="#000" stroke-width="0.15">50</text>
<rect x="42.9" y="143.9" width="4.4" height="1.3" fill="#000"/>
<text transform="translate(35.6,156.84) rotate(-90)" x="-1.21" y="0" font-size="15.15" textLength="26.64" lengthAdjust="spacingAndGlyphs" fill="#000" stroke="#000" stroke-width="0.15">100</text>
<rect x="42.9" y="191.88" width="4.4" height="1.3" fill="#000"/>
<text transform="translate(35.6,204.82) rotate(-90)" x="-1.21" y="0" font-size="15.15" textLength="26.64" lengthAdjust="spacingAndGlyphs" fill="#000" stroke="#000" stroke-width="0.15">150</text>
<rect x="42.9" y="239.86" width="4.4" height="1.3" fill="#000"/>
<text transform="translate(35.6,253.07) rotate(-90)" x="-0.8" y="0" font-size="15.15" textLength="26.76" lengthAdjust="spacingAndGlyphs" fill="#000" stroke="#000" stroke-width="0.15">200</text>
<rect x="43" y="380.59" width="4.4" height="1.3" fill="#000"/>
<text transform="translate(35.6,384.74) rotate(-90)" x="-0.59" y="0" font-size="15.15" textLength="8.4" lengthAdjust="spacingAndGlyphs" fill="#000" stroke="#000" stroke-width="0.15">0</text>
<rect x="43" y="428.47" width="4.4" height="1.3" fill="#000"/>
<text transform="translate(35.6,437.09) rotate(-90)" x="-0.63" y="0" font-size="15.15" textLength="17.41" lengthAdjust="spacingAndGlyphs" fill="#000" stroke="#000" stroke-width="0.15">50</text>
<rect x="43" y="476.35" width="4.4" height="1.3" fill="#000"/>
<text transform="translate(35.6,489.29) rotate(-90)" x="-1.21" y="0" font-size="15.15" textLength="26.64" lengthAdjust="spacingAndGlyphs" fill="#000" stroke="#000" stroke-width="0.15">100</text>
<rect x="43" y="524.23" width="4.4" height="1.3" fill="#000"/>
<text transform="translate(35.6,537.17) rotate(-90)" x="-1.21" y="0" font-size="15.15" textLength="26.64" lengthAdjust="spacingAndGlyphs" fill="#000" stroke="#000" stroke-width="0.15">150</text>
<rect x="43" y="572.11" width="4.4" height="1.3" fill="#000"/>
<text transform="translate(35.6,585.32) rotate(-90)" x="-0.8" y="0" font-size="15.15" textLength="26.76" lengthAdjust="spacingAndGlyphs" fill="#000" stroke="#000" stroke-width="0.15">200</text>
<rect x="43.1" y="713.09" width="4.4" height="1.3" fill="#000"/>
<text transform="translate(35.6,717.24) rotate(-90)" x="-0.59" y="0" font-size="15.15" textLength="8.4" lengthAdjust="spacingAndGlyphs" fill="#000" stroke="#000" stroke-width="0.15">0</text>
<rect x="43.1" y="760.97" width="4.4" height="1.3" fill="#000"/>
<text transform="translate(35.6,769.59) rotate(-90)" x="-0.63" y="0" font-size="15.15" textLength="17.41" lengthAdjust="spacingAndGlyphs" fill="#000" stroke="#000" stroke-width="0.15">50</text>
<rect x="43.1" y="808.85" width="4.4" height="1.3" fill="#000"/>
<text transform="translate(35.6,821.79) rotate(-90)" x="-1.21" y="0" font-size="15.15" textLength="26.64" lengthAdjust="spacingAndGlyphs" fill="#000" stroke="#000" stroke-width="0.15">100</text>
<rect x="43.1" y="856.73" width="4.4" height="1.3" fill="#000"/>
<text transform="translate(35.6,869.67) rotate(-90)" x="-1.21" y="0" font-size="15.15" textLength="26.64" lengthAdjust="spacingAndGlyphs" fill="#000" stroke="#000" stroke-width="0.15">150</text>
<rect x="43.1" y="904.61" width="4.4" height="1.3" fill="#000"/>
<text transform="translate(35.6,917.82) rotate(-90)" x="-0.8" y="0" font-size="15.15" textLength="26.76" lengthAdjust="spacingAndGlyphs" fill="#000" stroke="#000" stroke-width="0.15">200</text>
<rect x="326.1" y="380.7" width="4.4" height="1.3" fill="#000"/>
<rect x="326.1" y="428.6" width="4.4" height="1.3" fill="#000"/>
<rect x="326.1" y="476.5" width="4.4" height="1.3" fill="#000"/>
<rect x="326.1" y="524.4" width="4.4" height="1.3" fill="#000"/>
<rect x="326.1" y="572.3" width="4.4" height="1.3" fill="#000"/>
<rect x="328.1" y="712.91" width="4.4" height="1.3" fill="#000"/>
<rect x="328.1" y="760.83" width="4.4" height="1.3" fill="#000"/>
<rect x="328.1" y="808.75" width="4.4" height="1.3" fill="#000"/>
<rect x="328.1" y="856.67" width="4.4" height="1.3" fill="#000"/>
<rect x="328.1" y="904.59" width="4.4" height="1.3" fill="#000"/>
<rect x="96.32" y="265.1" width="1.3" height="4.6000000000000005" fill="#000"/>
<text x="81.04" y="284.5" font-size="15.15" textLength="30.93" lengthAdjust="spacingAndGlyphs" fill="#000" stroke="#000" stroke-width="0.15">12.5</text>
<rect x="194.86" y="265.1" width="1.3" height="4.6000000000000005" fill="#000"/>
<text x="186.58" y="284.5" font-size="15.15" textLength="17.36" lengthAdjust="spacingAndGlyphs" fill="#000" stroke="#000" stroke-width="0.15">25</text>
<rect x="293.4" y="265.1" width="1.3" height="4.6000000000000005" fill="#000"/>
<text x="285.15" y="284.5" font-size="15.15" textLength="17.41" lengthAdjust="spacingAndGlyphs" fill="#000" stroke="#000" stroke-width="0.15">50</text>
<rect x="391.94" y="265.1" width="1.3" height="4.6000000000000005" fill="#000"/>
<text x="378.79" y="284.5" font-size="15.15" textLength="26.64" lengthAdjust="spacingAndGlyphs" fill="#000" stroke="#000" stroke-width="0.15">100</text>
<rect x="490.48" y="265.1" width="1.3" height="4.6000000000000005" fill="#000"/>
<text x="477.47" y="284.5" font-size="15.15" textLength="26.76" lengthAdjust="spacingAndGlyphs" fill="#000" stroke="#000" stroke-width="0.15">200</text>
<rect x="73.78" y="597.3" width="1.3" height="4.6000000000000005" fill="#000"/>
<rect x="127.04" y="597.3" width="1.3" height="4.6000000000000005" fill="#000"/>
<rect x="180.3" y="597.3" width="1.3" height="4.6000000000000005" fill="#000"/>
<rect x="233.56" y="597.3" width="1.3" height="4.6000000000000005" fill="#000"/>
<rect x="286.82" y="597.3" width="1.3" height="4.6000000000000005" fill="#000"/>
<rect x="356.87" y="597.5" width="1.3" height="4.6000000000000005" fill="#000"/>
<rect x="410.11" y="597.5" width="1.3" height="4.6000000000000005" fill="#000"/>
<rect x="463.35" y="597.5" width="1.3" height="4.6000000000000005" fill="#000"/>
<rect x="516.59" y="597.5" width="1.3" height="4.6000000000000005" fill="#000"/>
<rect x="569.83" y="597.5" width="1.3" height="4.6000000000000005" fill="#000"/>
<rect x="73.86" y="929.8" width="1.3" height="4.6000000000000005" fill="#000"/>
<text x="58.58" y="949.7" font-size="15.15" textLength="30.93" lengthAdjust="spacingAndGlyphs" fill="#000" stroke="#000" stroke-width="0.15">12.5</text>
<rect x="127.08" y="929.8" width="1.3" height="4.6000000000000005" fill="#000"/>
<text x="118.8" y="949.7" font-size="15.15" textLength="17.36" lengthAdjust="spacingAndGlyphs" fill="#000" stroke="#000" stroke-width="0.15">25</text>
<rect x="180.3" y="929.8" width="1.3" height="4.6000000000000005" fill="#000"/>
<text x="172.05" y="949.7" font-size="15.15" textLength="17.41" lengthAdjust="spacingAndGlyphs" fill="#000" stroke="#000" stroke-width="0.15">50</text>
<rect x="233.52" y="929.8" width="1.3" height="4.6000000000000005" fill="#000"/>
<text x="220.37" y="949.7" font-size="15.15" textLength="26.64" lengthAdjust="spacingAndGlyphs" fill="#000" stroke="#000" stroke-width="0.15">100</text>
<rect x="286.74" y="929.8" width="1.3" height="4.6000000000000005" fill="#000"/>
<text x="273.73" y="949.7" font-size="15.15" textLength="26.76" lengthAdjust="spacingAndGlyphs" fill="#000" stroke="#000" stroke-width="0.15">200</text>
<rect x="358.85" y="929.8" width="1.3" height="4.6000000000000005" fill="#000"/>
<text x="343.57" y="949.7" font-size="15.15" textLength="30.93" lengthAdjust="spacingAndGlyphs" fill="#000" stroke="#000" stroke-width="0.15">12.5</text>
<rect x="412.05" y="929.8" width="1.3" height="4.6000000000000005" fill="#000"/>
<text x="403.77" y="949.7" font-size="15.15" textLength="17.36" lengthAdjust="spacingAndGlyphs" fill="#000" stroke="#000" stroke-width="0.15">25</text>
<rect x="465.25" y="929.8" width="1.3" height="4.6000000000000005" fill="#000"/>
<text x="457" y="949.7" font-size="15.15" textLength="17.41" lengthAdjust="spacingAndGlyphs" fill="#000" stroke="#000" stroke-width="0.15">50</text>
<rect x="518.45" y="929.8" width="1.3" height="4.6000000000000005" fill="#000"/>
<text x="505.3" y="949.7" font-size="15.15" textLength="26.64" lengthAdjust="spacingAndGlyphs" fill="#000" stroke="#000" stroke-width="0.15">100</text>
<rect x="571.65" y="929.8" width="1.3" height="4.6000000000000005" fill="#000"/>
<text x="558.64" y="949.7" font-size="15.15" textLength="26.76" lengthAdjust="spacingAndGlyphs" fill="#000" stroke="#000" stroke-width="0.15">200</text>
<text x="231.22" y="17.2" font-size="22.73" textLength="29.12" lengthAdjust="spacingAndGlyphs" fill="#000" stroke="#000" stroke-width="0.0">(a)</text>
<text x="267.95" y="17.2" font-size="22.73" textLength="41.78" lengthAdjust="spacingAndGlyphs" fill="#000" stroke="#000" stroke-width="0.0">NPP</text>
<text x="316.29" y="17.2" font-size="22.73" textLength="41.07" lengthAdjust="spacingAndGlyphs" fill="#000" stroke="#000" stroke-width="0.0">diff.</text>
<text x="78.79" y="349.5" font-size="22.73" textLength="29.81" lengthAdjust="spacingAndGlyphs" fill="#000" stroke="#000" stroke-width="0.0">(b)</text>
<text x="116.08" y="349.5" font-size="22.73" textLength="70.37" lengthAdjust="spacingAndGlyphs" fill="#000" stroke="#000" stroke-width="0.0">UPPER</text>
<text x="193.39" y="349.5" font-size="22.73" textLength="42.01" lengthAdjust="spacingAndGlyphs" fill="#000" stroke="#000" stroke-width="0.0">NPP</text>
<text x="241.99" y="349.5" font-size="22.73" textLength="41.29" lengthAdjust="spacingAndGlyphs" fill="#000" stroke="#000" stroke-width="0.0">diff.</text>
<text x="339.02" y="349.5" font-size="22.73" textLength="27.92" lengthAdjust="spacingAndGlyphs" fill="#000" stroke="#000" stroke-width="0.0">(c)</text>
<text x="374.38" y="349.5" font-size="22.73" textLength="117.41" lengthAdjust="spacingAndGlyphs" fill="#000" stroke="#000" stroke-width="0.0">UPWELLED</text>
<text x="499.3" y="349.5" font-size="22.73" textLength="42.01" lengthAdjust="spacingAndGlyphs" fill="#000" stroke="#000" stroke-width="0.0">NPP</text>
<text x="547.9" y="349.5" font-size="22.73" textLength="41.29" lengthAdjust="spacingAndGlyphs" fill="#000" stroke="#000" stroke-width="0.0">diff.</text>
<text x="74.79" y="681.5" font-size="22.73" textLength="29.79" lengthAdjust="spacingAndGlyphs" fill="#000" stroke="#000" stroke-width="0.0">(d)</text>
<text x="112.12" y="681.5" font-size="22.73" textLength="78.03" lengthAdjust="spacingAndGlyphs" fill="#000" stroke="#000" stroke-width="0.0">LOWER</text>
<text x="197.05" y="681.5" font-size="22.73" textLength="41.98" lengthAdjust="spacingAndGlyphs" fill="#000" stroke="#000" stroke-width="0.0">NPP</text>
<text x="245.63" y="681.5" font-size="22.73" textLength="41.27" lengthAdjust="spacingAndGlyphs" fill="#000" stroke="#000" stroke-width="0.0">diff.</text>
<text x="319.11" y="681.5" font-size="22.73" textLength="29.36" lengthAdjust="spacingAndGlyphs" fill="#000" stroke="#000" stroke-width="0.0">(e)</text>
<text x="356.08" y="681.5" font-size="22.73" textLength="158.66" lengthAdjust="spacingAndGlyphs" fill="#000" stroke="#000" stroke-width="0.0">REGENERATED</text>
<text x="522.28" y="681.5" font-size="22.73" textLength="42.06" lengthAdjust="spacingAndGlyphs" fill="#000" stroke="#000" stroke-width="0.0">NPP</text>
<text x="570.94" y="681.5" font-size="22.73" textLength="41.34" lengthAdjust="spacingAndGlyphs" fill="#000" stroke="#000" stroke-width="0.0">diff.</text>
<text transform="translate(15.8,224.4) rotate(-90)" x="-1.04" y="0" font-size="20.28" textLength="58.95" lengthAdjust="spacingAndGlyphs" fill="#000" stroke="#000" stroke-width="0.0">Outlet</text>
<text transform="translate(15.8,159.04) rotate(-90)" x="-0.93" y="0" font-size="20.28" textLength="55.41" lengthAdjust="spacingAndGlyphs" fill="#000" stroke="#000" stroke-width="0.0">depth</text>
<text transform="translate(15.8,96.66) rotate(-90)" x="-1.72" y="0" font-size="20.28" textLength="33.72" lengthAdjust="spacingAndGlyphs" fill="#000" stroke="#000" stroke-width="0.0">[m]</text>
<text transform="translate(16,725.3) rotate(-90)" x="-1.04" y="0" font-size="20.28" textLength="59.1" lengthAdjust="spacingAndGlyphs" fill="#000" stroke="#000" stroke-width="0.0">Outlet</text>
<text transform="translate(16,659.78) rotate(-90)" x="-0.93" y="0" font-size="20.28" textLength="55.55" lengthAdjust="spacingAndGlyphs" fill="#000" stroke="#000" stroke-width="0.0">depth</text>
<text transform="translate(16,597.24) rotate(-90)" x="-1.73" y="0" font-size="20.28" textLength="33.81" lengthAdjust="spacingAndGlyphs" fill="#000" stroke="#000" stroke-width="0.0">[m]</text>
<rect x="571.6" y="24.8" width="11.6" height="240.3" fill="url(#g1)"/>
<rect x="583.2" y="264.45" width="4.4" height="1.3" fill="#000"/>
<text x="592.32" y="270.4" font-size="15.15" textLength="22.12" lengthAdjust="spacingAndGlyphs" fill="#000" stroke="#000" stroke-width="0.15">0.0</text>
<rect x="583.2" y="224.4" width="4.4" height="1.3" fill="#000"/>
<text x="592.49" y="230.35" font-size="15.15" textLength="21.99" lengthAdjust="spacingAndGlyphs" fill="#000" stroke="#000" stroke-width="0.15">3.8</text>
<rect x="583.2" y="184.35" width="4.4" height="1.3" fill="#000"/>
<text x="592.37" y="190.3" font-size="15.15" textLength="21.97" lengthAdjust="spacingAndGlyphs" fill="#000" stroke="#000" stroke-width="0.15">7.7</text>
<rect x="583.2" y="144.3" width="4.4" height="1.3" fill="#000"/>
<text x="592.32" y="150.25" font-size="15.15" textLength="31.01" lengthAdjust="spacingAndGlyphs" fill="#000" stroke="#000" stroke-width="0.15">11.5</text>
<rect x="583.2" y="104.25" width="4.4" height="1.3" fill="#000"/>
<text x="592.36" y="110.2" font-size="15.15" textLength="31.07" lengthAdjust="spacingAndGlyphs" fill="#000" stroke="#000" stroke-width="0.15">15.3</text>
<rect x="583.2" y="64.2" width="4.4" height="1.3" fill="#000"/>
<text x="592.37" y="70.15" font-size="15.15" textLength="30.87" lengthAdjust="spacingAndGlyphs" fill="#000" stroke="#000" stroke-width="0.15">19.2</text>
<rect x="583.2" y="24.15" width="4.4" height="1.3" fill="#000"/>
<text x="592.24" y="30.1" font-size="15.15" textLength="31.32" lengthAdjust="spacingAndGlyphs" fill="#000" stroke="#000" stroke-width="0.15">23.0</text>
<rect x="618.1" y="525.5" width="12.6" height="240.6" fill="url(#g2)"/>
<rect x="630.7" y="765.45" width="4.4" height="1.3" fill="#000"/>
<text x="639.86" y="771.4" font-size="15.15" textLength="8.4" lengthAdjust="spacingAndGlyphs" fill="#000" stroke="#000" stroke-width="0.15">0</text>
<rect x="630.7" y="717.33" width="4.4" height="1.3" fill="#000"/>
<text x="639.75" y="723.28" font-size="15.15" textLength="17.64" lengthAdjust="spacingAndGlyphs" fill="#000" stroke="#000" stroke-width="0.15">20</text>
<rect x="630.7" y="669.21" width="4.4" height="1.3" fill="#000"/>
<text x="639.84" y="675.16" font-size="15.15" textLength="17.55" lengthAdjust="spacingAndGlyphs" fill="#000" stroke="#000" stroke-width="0.15">40</text>
<rect x="630.7" y="621.09" width="4.4" height="1.3" fill="#000"/>
<text x="639.69" y="627.04" font-size="15.15" textLength="17.7" lengthAdjust="spacingAndGlyphs" fill="#000" stroke="#000" stroke-width="0.15">60</text>
<rect x="630.7" y="572.97" width="4.4" height="1.3" fill="#000"/>
<text x="639.79" y="578.92" font-size="15.15" textLength="17.6" lengthAdjust="spacingAndGlyphs" fill="#000" stroke="#000" stroke-width="0.15">80</text>
<rect x="630.7" y="524.85" width="4.4" height="1.3" fill="#000"/>
<text x="639.86" y="530.8" font-size="15.15" textLength="26.64" lengthAdjust="spacingAndGlyphs" fill="#000" stroke="#000" stroke-width="0.15">100</text>
<text transform="translate(682.3,657) rotate(-90)" x="-0.94" y="0" font-size="14.66" textLength="23.6" lengthAdjust="spacingAndGlyphs" fill="#000" stroke="#000" stroke-width="0.15">(%)</text>
<text x="165.32" y="309.5" font-size="19.97" textLength="95.07" lengthAdjust="spacingAndGlyphs" fill="#000" stroke="#000" stroke-width="0.0" font-style="italic">Meltwater</text>
<text x="265.07" y="309.5" font-size="19.97" textLength="93.45" lengthAdjust="spacingAndGlyphs" fill="#000" stroke="#000" stroke-width="0.0" font-style="italic">discharge</text>
<text x="362.54" y="308.08" font-size="17.49" textLength="4.91" lengthAdjust="spacingAndGlyphs" fill="#000" stroke="#000" stroke-width="0.15">[</text>
<text x="370.24" y="309.5" font-size="19.97" textLength="17.87" lengthAdjust="spacingAndGlyphs" fill="#000" stroke="#000" stroke-width="0.0" font-style="italic">m</text>
<text x="388.75" y="301.2" font-size="11.03" textLength="8" lengthAdjust="spacingAndGlyphs" fill="#000" stroke="#000" stroke-width="0.15">3</text>
<text x="398.4" y="311.01" font-size="21.53" textLength="6.32" lengthAdjust="spacingAndGlyphs" fill="#000" stroke="#000" stroke-width="0.0">/</text>
<text x="404.94" y="309.5" font-size="19.97" textLength="9.68" lengthAdjust="spacingAndGlyphs" fill="#000" stroke="#000" stroke-width="0.0" font-style="italic">s</text>
<text x="416.46" y="308.08" font-size="17.49" textLength="4.91" lengthAdjust="spacingAndGlyphs" fill="#000" stroke="#000" stroke-width="0.15">]</text>
<text x="194.52" y="974.4" font-size="19.97" textLength="95.07" lengthAdjust="spacingAndGlyphs" fill="#000" stroke="#000" stroke-width="0.0" font-style="italic">Meltwater</text>
<text x="294.27" y="974.4" font-size="19.97" textLength="93.45" lengthAdjust="spacingAndGlyphs" fill="#000" stroke="#000" stroke-width="0.0" font-style="italic">discharge</text>
<text x="391.74" y="972.98" font-size="17.49" textLength="4.91" lengthAdjust="spacingAndGlyphs" fill="#000" stroke="#000" stroke-width="0.15">[</text>
<text x="399.44" y="974.4" font-size="19.97" textLength="17.87" lengthAdjust="spacingAndGlyphs" fill="#000" stroke="#000" stroke-width="0.0" font-style="italic">m</text>
<text x="417.95" y="966.1" font-size="11.03" textLength="8" lengthAdjust="spacingAndGlyphs" fill="#000" stroke="#000" stroke-width="0.15">3</text>
<text x="427.6" y="975.91" font-size="21.53" textLength="6.32" lengthAdjust="spacingAndGlyphs" fill="#000" stroke="#000" stroke-width="0.0">/</text>
<text x="434.14" y="974.4" font-size="19.97" textLength="9.68" lengthAdjust="spacingAndGlyphs" fill="#000" stroke="#000" stroke-width="0.0" font-style="italic">s</text>
<text x="445.66" y="972.98" font-size="17.49" textLength="4.91" lengthAdjust="spacingAndGlyphs" fill="#000" stroke="#000" stroke-width="0.15">]</text>
<text transform="translate(642.9,226) rotate(-90)" x="-0.82" y="0" font-size="16" textLength="4.41" lengthAdjust="spacingAndGlyphs" fill="#000" stroke="#000" stroke-width="0.15">(</text>
<text transform="translate(645.28,218.7) rotate(-90)" x="-1.29" y="0" font-size="19.59" textLength="10.79" lengthAdjust="spacingAndGlyphs" fill="#000" stroke="#000" stroke-width="0.0">×</text>
<text transform="translate(644.3,205.2) rotate(-90)" x="-1.27" y="0" font-size="17.44" textLength="18.54" lengthAdjust="spacingAndGlyphs" fill="#000" stroke="#000" stroke-width="0.15">10</text>
<text transform="translate(637.69,185) rotate(-90)" x="-0.63" y="0" font-size="12.31" textLength="6.89" lengthAdjust="spacingAndGlyphs" fill="#000" stroke="#000" stroke-width="0.15">6</text>
<text transform="translate(644.3,173.4) rotate(-90)" x="-0.31" y="0" font-size="16.99" textLength="29.51" lengthAdjust="spacingAndGlyphs" fill="#000" stroke="#000" stroke-width="0.15" font-style="italic">mol</text>
<text transform="translate(645.14,140.3) rotate(-90)" x="-0" y="0" font-size="17.44" textLength="4.51" lengthAdjust="spacingAndGlyphs" fill="#000" stroke="#000" stroke-width="0.15">/</text>
<text transform="translate(644.3,131.2) rotate(-90)" x="-0.9" y="0" font-size="17.44" textLength="19.61" lengthAdjust="spacingAndGlyphs" fill="#000" stroke="#000" stroke-width="0.15">60</text>
<text transform="translate(644.3,108.6) rotate(-90)" x="-0.64" y="0" font-size="16.99" textLength="40.07" lengthAdjust="spacingAndGlyphs" fill="#000" stroke="#000" stroke-width="0.15" font-style="italic">days</text>
<text transform="translate(642.9,68.3) rotate(-90)" x="-0.08" y="0" font-size="16" textLength="4.41" lengthAdjust="spacingAndGlyphs" fill="#000" stroke="#000" stroke-width="0.15">)</text>
</g></svg>
</body></html>
